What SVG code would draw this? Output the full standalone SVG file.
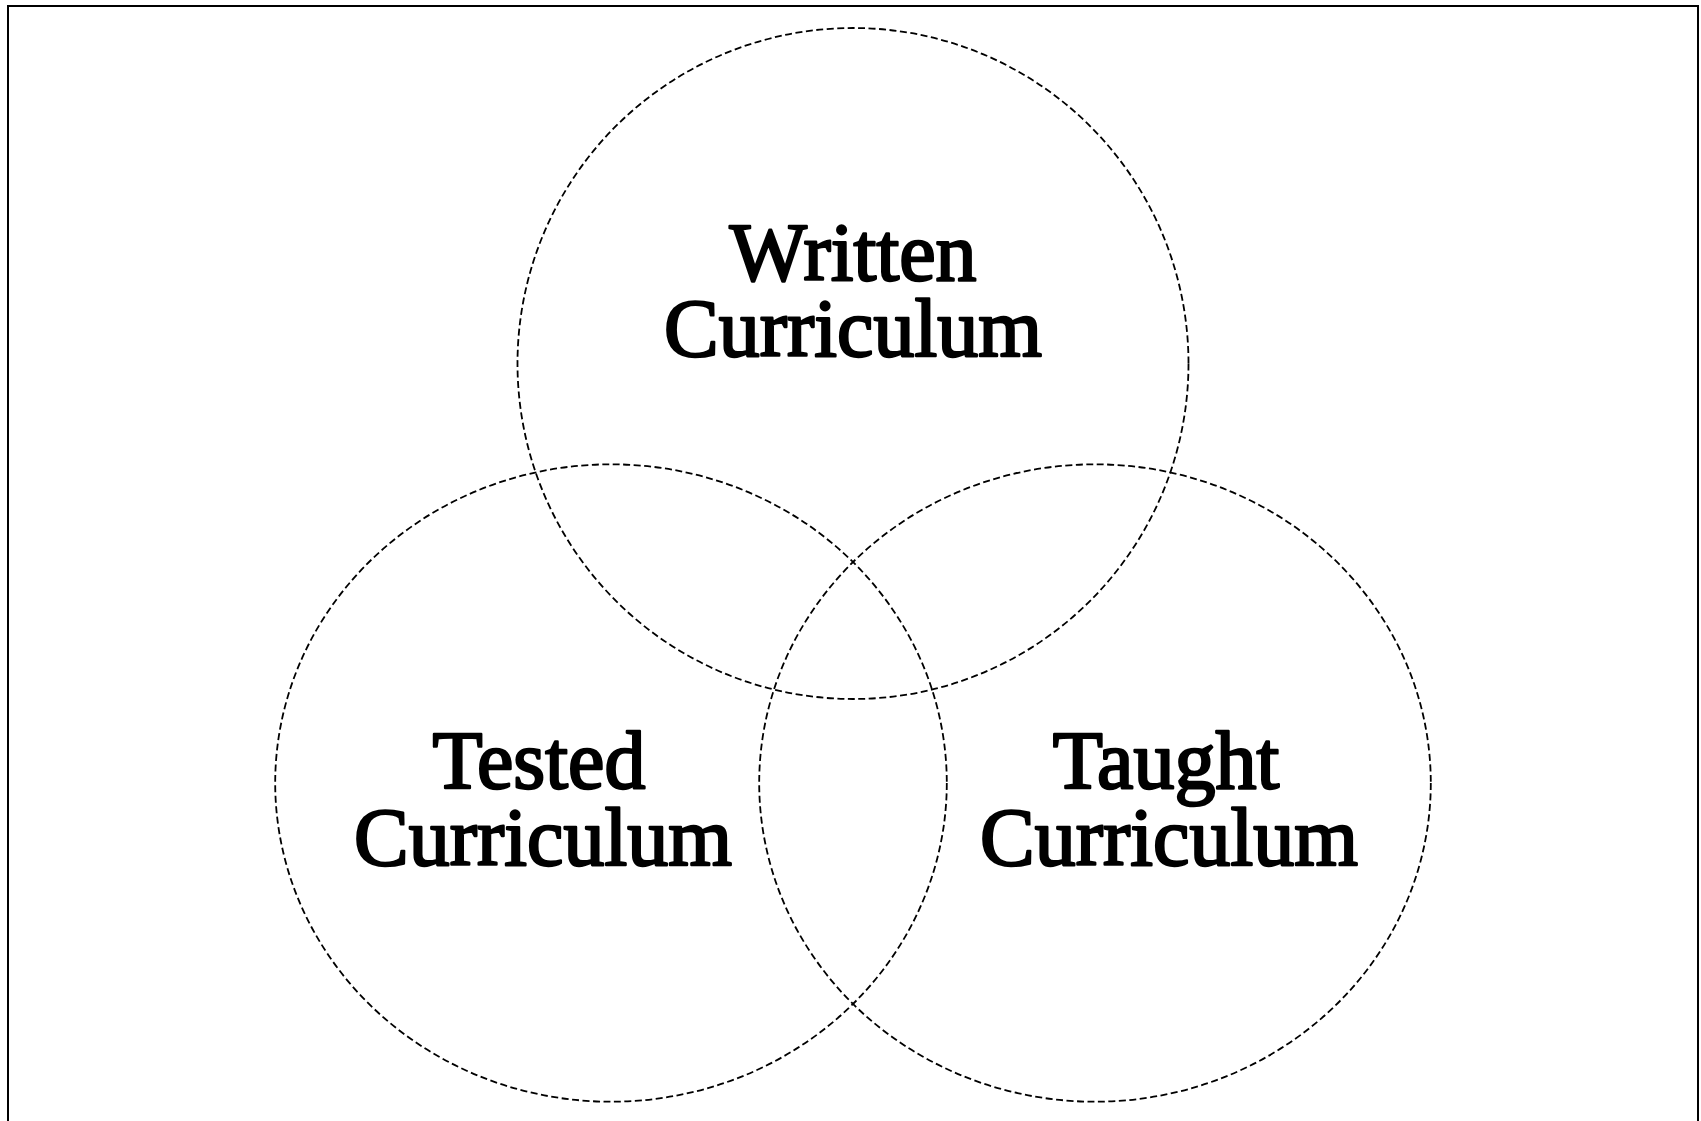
<svg xmlns="http://www.w3.org/2000/svg" width="1701" height="1121" viewBox="0 0 1701 1121">
<style>
.c{fill:none;stroke:#000;stroke-width:1.8;stroke-dasharray:7 3.5}
.t{font-family:"Liberation Serif","Times New Roman",serif;font-size:82px;fill:#000;stroke:#000;stroke-width:2.4;stroke-linejoin:round;text-anchor:middle}
</style>
<rect x="0" y="0" width="1701" height="1121" fill="#fff"/>
<rect x="8" y="6" width="1690" height="1130" fill="none" stroke="#000" stroke-width="2"/>
<g id="written">
<circle class="c" cx="853" cy="363.5" r="335.5"/>
<text class="t" x="853" y="280">Written</text>
<text class="t" x="853" y="356">Curriculum</text>
</g>
<g id="tested">
<ellipse class="c" cx="611" cy="783" rx="335.8" ry="318.7"/>
<text class="t" x="539" y="788">Tested</text>
<text class="t" x="543" y="865">Curriculum</text>
</g>
<g id="taught">
<ellipse class="c" cx="1095" cy="783" rx="335.8" ry="318.7"/>
<text class="t" x="1166" y="788">Taught</text>
<text class="t" x="1169" y="865">Curriculum</text>
</g>
<g id="connectors"></g>
</svg>
